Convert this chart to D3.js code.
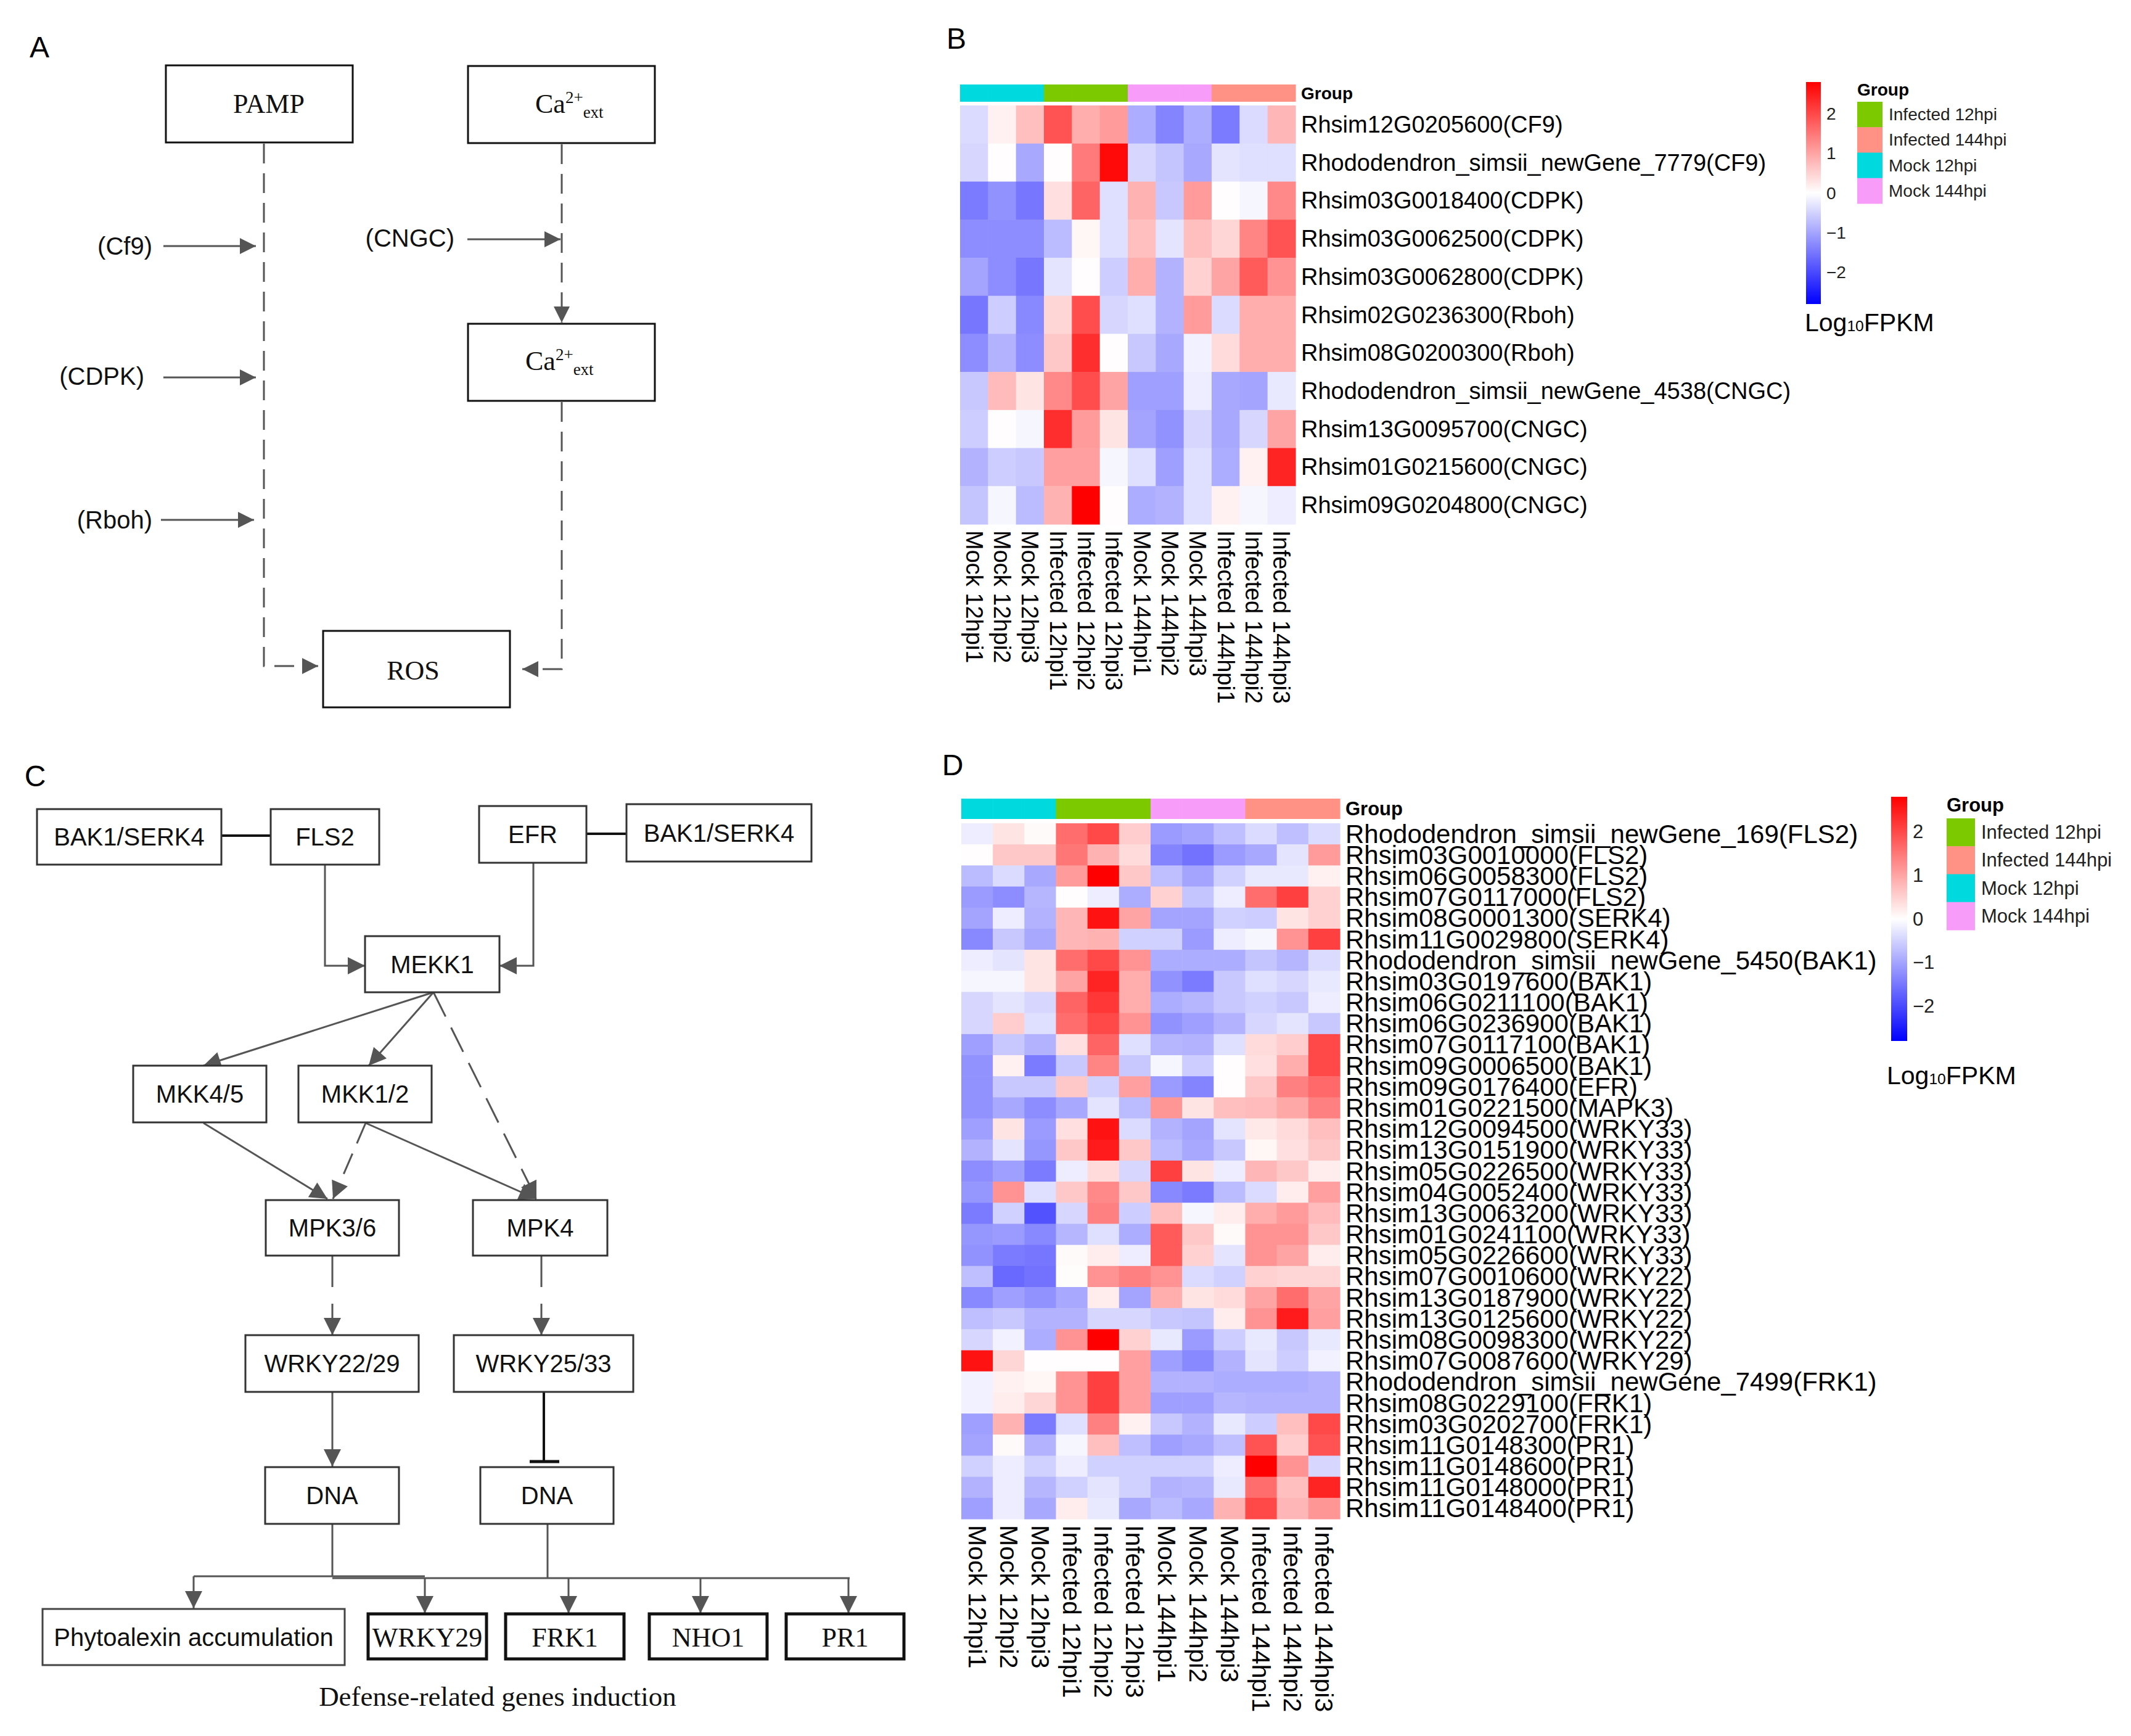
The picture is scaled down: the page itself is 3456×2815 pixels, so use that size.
<!DOCTYPE html>
<html><head><meta charset="utf-8">
<script src="https://cdn.jsdelivr.net/npm/d3@7"></script>
<style>body{margin:0;background:#fff}svg{display:block}</style>
</head><body>
<svg id="fig" width="3456" height="2815" xmlns="http://www.w3.org/2000/svg"></svg>
<script>
// ---------------- DATA ----------------
const samples = ["Mock 12hpi1","Mock 12hpi2","Mock 12hpi3","Infected 12hpi1","Infected 12hpi2","Infected 12hpi3",
  "Mock 144hpi1","Mock 144hpi2","Mock 144hpi3","Infected 144hpi1","Infected 144hpi2","Infected 144hpi3"];
const sampleGroups = ["Mock 12hpi","Mock 12hpi","Mock 12hpi","Infected 12hpi","Infected 12hpi","Infected 12hpi",
  "Mock 144hpi","Mock 144hpi","Mock 144hpi","Infected 144hpi","Infected 144hpi","Infected 144hpi"];
const groupLegend = ["Infected 12hpi","Infected 144hpi","Mock 12hpi","Mock 144hpi"];
const groupColors = ["#7DC900","#FF9284","#00DADF","#F79CF8"];
const legendTicks = [2,1,0,-1,-2];
const colorStops = ["#0000FF","#FFFFFF","#FF0000"];
const colorLimit = 2.8;

const genesB = ["Rhsim12G0205600(CF9)","Rhododendron_simsii_newGene_7779(CF9)","Rhsim03G0018400(CDPK)",
  "Rhsim03G0062500(CDPK)","Rhsim03G0062800(CDPK)","Rhsim02G0236300(Rboh)","Rhsim08G0200300(Rboh)",
  "Rhododendron_simsii_newGene_4538(CNGC)","Rhsim13G0095700(CNGC)","Rhsim01G0215600(CNGC)","Rhsim09G0204800(CNGC)"];
const valuesB = [
  [-0.4, 0.15, 0.7, 1.9, 0.9, 1.1, -0.9, -1.35, -0.9, -1.45, -0.4, 0.8],
  [-0.45, 0.02, -0.95, 0.02, 1.45, 2.7, -0.45, -0.65, -0.95, -0.3, -0.35, -0.35],
  [-1.45, -1.2, -1.5, 0.35, 1.7, -0.35, 0.85, -0.6, 1.1, 0.02, -0.1, 1.3],
  [-1.25, -1.25, -1.25, -0.75, 0.1, -0.35, 0.7, -0.3, 0.7, 0.45, 1.35, 1.9],
  [-1.0, -1.25, -1.5, -0.3, 0.02, -0.55, 0.9, -0.85, 0.5, 1.0, 1.8, 1.2],
  [-1.5, -0.55, -1.3, 0.45, 1.95, -0.45, -0.35, -0.85, 1.1, -0.4, 0.9, 0.9],
  [-1.25, -0.85, -1.25, 0.6, 2.3, 0.02, -0.6, -0.95, -0.15, 0.4, 0.9, 0.9],
  [-0.6, 0.75, 0.3, 1.3, 1.95, 1.0, -1.05, -1.05, -0.2, -0.95, -1.0, -0.25],
  [-0.55, 0.02, -0.1, 2.3, 1.1, 0.3, -1.0, -1.2, -0.45, -0.95, -0.45, 1.0],
  [-0.85, -0.55, -0.6, 1.05, 1.05, -0.1, -0.35, -1.05, -0.35, -0.9, 0.15, 2.4],
  [-0.65, -0.1, -0.75, 0.85, 2.85, 0.02, -0.9, -0.85, -0.35, 0.15, -0.1, -0.2]
];

const genesD = ["Rhododendron_simsii_newGene_169(FLS2)","Rhsim03G0010000(FLS2)","Rhsim06G0058300(FLS2)",
  "Rhsim07G0117000(FLS2)","Rhsim08G0001300(SERK4)","Rhsim11G0029800(SERK4)","Rhododendron_simsii_newGene_5450(BAK1)",
  "Rhsim03G0197600(BAK1)","Rhsim06G0211100(BAK1)","Rhsim06G0236900(BAK1)","Rhsim07G0117100(BAK1)",
  "Rhsim09G0006500(BAK1)","Rhsim09G0176400(EFR)","Rhsim01G0221500(MAPK3)","Rhsim12G0094500(WRKY33)",
  "Rhsim13G0151900(WRKY33)","Rhsim05G0226500(WRKY33)","Rhsim04G0052400(WRKY33)","Rhsim13G0063200(WRKY33)",
  "Rhsim01G0241100(WRKY33)","Rhsim05G0226600(WRKY33)","Rhsim07G0010600(WRKY22)","Rhsim13G0187900(WRKY22)",
  "Rhsim13G0125600(WRKY22)","Rhsim08G0098300(WRKY22)","Rhsim07G0087600(WRKY29)",
  "Rhododendron_simsii_newGene_7499(FRK1)","Rhsim08G0229100(FRK1)","Rhsim03G0202700(FRK1)",
  "Rhsim11G0148300(PR1)","Rhsim11G0148600(PR1)","Rhsim11G0148000(PR1)","Rhsim11G0148400(PR1)"];
const valuesD = [
  [-0.2, 0.3, 0.05, 1.6, 2.0, 0.55, -1.1, -1.0, -0.7, -0.4, -0.7, -0.4],
  [0.02, 0.6, 0.6, 1.5, 0.85, 0.4, -1.35, -1.55, -1.1, -0.95, -0.3, 1.1],
  [-0.75, -0.4, -0.95, 1.1, 2.85, 0.6, -0.7, -1.0, -0.5, -0.25, -0.25, 0.15],
  [-1.1, -1.25, -0.8, 0.02, -0.2, -0.9, 0.5, -0.65, -0.2, 1.6, 2.1, 0.5],
  [-1.0, -0.2, -0.85, 0.8, 2.6, 1.0, -1.0, -1.0, -0.5, -0.55, 0.3, 0.5],
  [-1.3, -0.6, -0.95, 0.8, 0.85, -0.5, -0.5, -1.1, -0.2, -0.1, 1.2, 2.1],
  [-0.2, -0.3, 0.3, 1.6, 2.0, 1.2, -0.9, -0.9, -0.9, -0.65, -0.8, -0.4],
  [-0.1, -0.1, 0.3, 1.0, 2.4, 0.9, -1.2, -1.45, -0.6, -0.35, -0.45, -0.25],
  [-0.45, -0.3, -0.45, 1.7, 2.2, 0.9, -0.9, -0.8, -0.6, -0.5, -0.6, -0.2],
  [-0.45, 0.55, -0.35, 1.6, 2.0, 1.2, -1.2, -1.05, -0.85, -0.45, -0.3, -0.6],
  [-1.05, -0.6, -0.85, 0.35, 1.7, -0.35, -0.8, -0.85, -0.35, 0.4, 0.55, 2.0],
  [-1.2, 0.15, -1.45, -0.6, 1.35, -0.6, -0.1, -0.55, 0.02, 0.35, 0.9, 2.0],
  [-1.2, -0.6, -0.6, 0.6, -0.5, 1.05, -1.1, -1.35, 0.02, 0.6, 1.4, 1.65],
  [-1.2, -0.95, -1.25, -0.95, -0.3, -0.75, 1.15, 0.3, 0.7, 0.75, 0.95, 1.4],
  [-1.05, 0.3, -1.1, 0.35, 2.6, -0.4, -0.85, -1.0, -0.3, 0.25, 0.4, 0.7],
  [-0.85, -0.3, -1.15, 0.6, 2.5, 0.6, -0.75, -0.95, -0.6, 0.1, 0.35, 0.6],
  [-1.25, -1.05, -1.45, -0.2, 0.4, -0.45, 2.1, 0.3, -0.2, 0.8, 0.6, 0.2],
  [-1.15, 1.2, -0.35, 0.6, 1.3, 0.6, -1.3, -1.45, -0.75, -0.4, 0.2, 1.05],
  [-1.45, -0.5, -1.9, -0.45, 1.4, -0.55, 0.7, -0.1, 0.2, 0.9, 1.1, 0.75],
  [-1.15, -1.1, -1.3, -0.8, -0.35, -0.9, 1.8, 0.6, 0.05, 1.2, 1.2, 0.6],
  [-1.2, -1.45, -1.5, 0.05, 0.2, -0.2, 1.8, 0.5, -0.3, 1.2, 1.0, 0.2],
  [-0.7, -1.65, -1.55, 0.03, 1.2, 1.4, 1.2, -0.4, -0.5, 0.5, 0.45, 0.45],
  [-1.3, -1.05, -1.2, -0.95, 0.2, -1.0, 0.9, 0.3, 0.4, 1.0, 1.6, 1.0],
  [-0.7, -0.6, -0.85, -0.85, -0.45, -0.45, -0.6, -0.65, 0.2, 1.2, 2.5, 1.05],
  [-0.45, -0.15, -0.9, 1.2, 2.85, 0.5, -0.25, -1.1, -0.55, -0.25, -0.6, -0.25],
  [2.6, 0.45, 0.02, 0.02, 0.02, 1.05, -1.05, -1.3, -0.85, -0.3, -0.55, -0.15],
  [-0.15, 0.15, 0.1, 1.2, 2.1, 1.05, -0.85, -0.85, -0.9, -0.9, -0.9, -0.85],
  [-0.15, 0.2, 0.45, 1.2, 2.1, 1.05, -1.05, -1.05, -0.8, -0.85, -0.85, -0.85],
  [-1.05, 0.85, -1.45, -0.35, 1.4, 0.15, -0.6, -0.85, -0.25, -0.55, 0.7, 2.0],
  [-1.0, 0.05, -0.85, -0.1, 0.7, -0.7, -1.05, -0.95, -0.7, 1.9, 0.55, 1.9],
  [-0.5, -0.2, -0.5, -0.2, -0.5, -0.5, -0.5, -0.5, -0.2, 2.85, 1.2, -0.45],
  [-0.85, -0.2, -0.8, -0.5, -0.3, -0.5, -0.85, -0.8, -0.25, 1.6, 0.7, 2.4],
  [-1.05, -0.2, -0.95, 0.2, -0.25, -0.95, -0.75, -0.95, 0.85, 2.0, 0.8, 1.15]
];

// ---------------- SETUP ----------------
const SANS = "'Liberation Sans', Arial, sans-serif";
const SERIF = "'Liberation Serif', 'Times New Roman', serif";
const svg = d3.select("#fig");
svg.append("rect").attr("width",3456).attr("height",2815).attr("fill","#fff");
const defs = svg.append("defs");
const LINE = "#555";

function marker(id, len, wid, color) {
  defs.append("marker").attr("id", id).attr("viewBox","0 0 10 10").attr("refX",10).attr("refY",5)
    .attr("markerUnits","userSpaceOnUse").attr("markerWidth",len).attr("markerHeight",wid)
    .attr("orient","auto").append("path").attr("d","M0,0L10,5L0,10Z").attr("fill",color);
}
marker("arrA", 32, 26, LINE);
marker("arrC", 32, 28, LINE);

const colorScale = d3.scaleLinear().domain([-colorLimit,0,colorLimit]).range(colorStops).clamp(true);
const groupColor = d3.scaleOrdinal().domain(groupLegend).range(groupColors);

function panelLabel(t, x, y) {
  svg.append("text").attr("x",x).attr("y",y).attr("font-family",SANS).attr("font-size",48)
    .attr("text-anchor","middle").attr("dominant-baseline","central").text(t);
}

// ---------------- HEATMAP ----------------
function heatmap(cfg) {
  const g = svg.append("g");
  const x = d3.scaleBand().domain(samples).range([cfg.x0, cfg.x1]);
  const y = d3.scaleBand().domain(cfg.genes).range([cfg.y0, cfg.y1]);
  // group annotation bar
  g.selectAll("rect.grp").data(samples).join("rect").attr("class","grp")
    .attr("x", d => x(d)).attr("y", cfg.barY0).attr("width", x.bandwidth()+0.6).attr("height", cfg.barY1-cfg.barY0)
    .attr("fill", (d,i) => groupColor(sampleGroups[i]));
  g.append("text").attr("x", cfg.labelX).attr("y",(cfg.barY0+cfg.barY1)/2).attr("dominant-baseline","central")
    .attr("font-family",SANS).attr("font-weight","bold").attr("font-size",cfg.groupFont).text("Group");
  // cells
  const cells = [];
  cfg.values.forEach((row, r) => row.forEach((v, c) => cells.push({gene: cfg.genes[r], sample: samples[c], v})));
  g.selectAll("rect.cell").data(cells).join("rect").attr("class","cell")
    .attr("x", d => x(d.sample)).attr("y", d => y(d.gene))
    .attr("width", x.bandwidth()+0.6).attr("height", y.bandwidth()+0.6)
    .attr("fill", d => colorScale(d.v));
  // row labels
  g.selectAll("text.row").data(cfg.genes).join("text").attr("class","row")
    .attr("x", cfg.labelX).attr("y", d => y(d) + y.bandwidth()/2).attr("dominant-baseline","central")
    .attr("font-family",SANS).attr("font-size",cfg.rowFont).text(d => d);
  // column labels
  g.selectAll("text.col").data(samples).join("text").attr("class","col")
    .attr("transform", d => `translate(${x(d)+x.bandwidth()/2},${cfg.colY}) rotate(90)`)
    .attr("dominant-baseline","central").attr("font-family",SANS).attr("font-size",cfg.colFont).text(d => d);
  // legend: colour bar
  const gid = "grad" + cfg.id;
  const grad = defs.append("linearGradient").attr("id",gid).attr("x1",0).attr("x2",0).attr("y1",1).attr("y2",0);
  d3.range(0, 1.0001, 0.05).forEach(t => grad.append("stop").attr("offset", t)
    .attr("stop-color", colorScale(-colorLimit + 2*colorLimit*t)));
  const ly = d3.scaleLinear().domain([colorLimit, -colorLimit]).range([cfg.cbY0, cfg.cbY1]);
  g.append("rect").attr("x",cfg.cbX).attr("y",cfg.cbY0).attr("width",cfg.cbW).attr("height",cfg.cbY1-cfg.cbY0)
    .attr("fill",`url(#${gid})`);
  g.selectAll("text.tick").data(legendTicks).join("text").attr("class","tick")
    .attr("x", cfg.cbX + cfg.cbW + 9).attr("y", d => ly(d)).attr("dominant-baseline","central")
    .attr("font-family",SANS).attr("font-size",cfg.legFont).attr("fill","#222")
    .text(d => d < 0 ? "\u2212" + Math.abs(d) : String(d));
  const lt = g.append("text").attr("x",cfg.logX).attr("y",cfg.logY).attr("font-family",SANS).attr("font-size",cfg.logFont);
  lt.append("tspan").text("Log");
  lt.append("tspan").attr("font-size",cfg.logFont*0.6).text("10");
  lt.append("tspan").text("FPKM");
  // legend: groups
  g.append("text").attr("x",cfg.swX).attr("y",cfg.grpY).attr("dominant-baseline","central")
    .attr("font-family",SANS).attr("font-weight","bold").attr("font-size",cfg.legFont).text("Group");
  const sy = d3.scaleBand().domain(groupLegend).range([cfg.swY0, cfg.swY0 + cfg.swH*groupLegend.length]);
  g.selectAll("rect.sw").data(groupLegend).join("rect").attr("class","sw")
    .attr("x",cfg.swX).attr("y", d => sy(d)).attr("width",cfg.swW).attr("height",sy.bandwidth()+0.5)
    .attr("fill", d => groupColor(d));
  g.selectAll("text.sw").data(groupLegend).join("text").attr("class","sw")
    .attr("x",cfg.swX+cfg.swW+10).attr("y", d => sy(d)+sy.bandwidth()/2).attr("dominant-baseline","central")
    .attr("font-family",SANS).attr("font-size",cfg.legFont).attr("fill","#222").text(d => d);
}

heatmap({id:"B", genes:genesB, values:valuesB, x0:1557, x1:2101, y0:171, y1:850, barY0:137, barY1:165,
  labelX:2110, rowFont:38, colFont:38, colY:860, groupFont:28,
  cbX:2929, cbW:24, cbY0:133, cbY1:493, legFont:28, logFont:41, logX:2927, logY:537,
  swX:3012, swW:41, swY0:165, swH:41.25, grpY:145});
heatmap({id:"D", genes:genesD, values:valuesD, x0:1559, x1:2173, y0:1335, y1:2463, barY0:1295, barY1:1328,
  labelX:2182, rowFont:42, colFont:41, colY:2473, groupFont:31,
  cbX:3067, cbW:26, cbY0:1292, cbY1:1688, legFont:31, logFont:41, logX:3060, logY:1758,
  swX:3157, swW:46, swY0:1327, swH:45.25, grpY:1305});

panelLabel("B", 1551, 62);
panelLabel("D", 1545, 1240);

// ---------------- PANEL A ----------------
panelLabel("A", 64, 76);
const gA = svg.append("g");
function box(g, x0, y0, x1, y1, sw, col) {
  g.append("rect").attr("x",x0).attr("y",y0).attr("width",x1-x0).attr("height",y1-y0)
    .attr("fill","#fff").attr("stroke",col||"#111").attr("stroke-width",sw||3);
}
function path(g, d, opts) {
  const p = g.append("path").attr("d",d).attr("fill","none").attr("stroke",opts.color||LINE)
    .attr("stroke-width",opts.w||3);
  if (opts.dash) p.attr("stroke-dasharray",opts.dash);
  if (opts.marker) p.attr("marker-end",`url(#${opts.marker})`);
  return p;
}
function label(g, t, x, y, font, size, anchor) {
  return g.append("text").attr("x",x).attr("y",y).attr("font-family",font).attr("font-size",size)
    .attr("text-anchor",anchor||"middle").attr("dominant-baseline","central").attr("fill","#111").text(t);
}
function caText(g, x, y) {
  const t = g.append("text").attr("x",x).attr("y",y).attr("font-family",SERIF).attr("font-size",44).attr("fill","#111");
  t.append("tspan").text("Ca");
  t.append("tspan").attr("font-size",27).attr("dy",-16).text("2+");
  t.append("tspan").attr("font-size",27).attr("dy",24).text("ext");
}
box(gA, 269,106,572,231);
box(gA, 759,107,1062,232);
box(gA, 759,525,1062,650);
box(gA, 524,1023,827,1147);
label(gA, "PAMP", 436, 168, SERIF, 44);
caText(gA, 868, 183);
caText(gA, 852, 600);
label(gA, "ROS", 670, 1087, SERIF, 44);
path(gA, "M428,233V1080H516", {dash:"32,16", marker:"arrA"});
path(gA, "M911,234V523", {dash:"32,16", marker:"arrA"});
path(gA, "M911,652V1085H847", {dash:"32,16", marker:"arrA"});
path(gA, "M265,399H415", {marker:"arrA"});
path(gA, "M265,612H415", {marker:"arrA"});
path(gA, "M261,843H412", {marker:"arrA"});
path(gA, "M758,388H909", {marker:"arrA"});
label(gA, "(Cf9)", 247, 399, SANS, 40, "end");
label(gA, "(CDPK)", 234, 610, SANS, 40, "end");
label(gA, "(Rboh)", 247, 843, SANS, 40, "end");
label(gA, "(CNGC)", 737, 386, SANS, 40, "end");

// ---------------- PANEL C ----------------
panelLabel("C", 57, 1258);
const gC = svg.append("g");
const BC = "#333";
const nodesC = [
  ["BAK1/SERK4", 60,1312,359,1402], ["FLS2", 439,1312,615,1402], ["EFR", 777,1307,951,1399],
  ["BAK1/SERK4", 1016,1304,1316,1397], ["MEKK1", 592,1518,810,1609], ["MKK4/5", 216,1728,432,1820],
  ["MKK1/2", 484,1728,700,1820], ["MPK3/6", 431,1946,647,2036], ["MPK4", 767,1946,985,2036],
  ["WRKY22/29", 398,2165,679,2257], ["WRKY25/33", 736,2165,1027,2257], ["DNA", 430,2379,647,2471],
  ["DNA", 779,2379,995,2471]
];
// edges
path(gC, "M359,1355H439", {color:"#111", w:4});
path(gC, "M951,1352H1016", {color:"#111", w:4});
path(gC, "M527,1402V1566H592", {marker:"arrC"});
path(gC, "M865,1399V1566H810", {marker:"arrC"});
path(gC, "M703,1609L330,1728", {marker:"arrC"});
path(gC, "M703,1609L598,1728", {marker:"arrC"});
path(gC, "M703,1609L870,1944", {marker:"arrC", dash:"44,20"});
path(gC, "M330,1821L531,1944", {marker:"arrC"});
path(gC, "M593,1821L540,1944", {marker:"arrC", dash:"36,18"});
path(gC, "M593,1821L870,1944", {marker:"arrC"});
path(gC, "M539,2036V2165", {marker:"arrC", dash:"51,27"});
path(gC, "M878,2036V2165", {marker:"arrC", dash:"51,27"});
path(gC, "M539,2257V2378", {marker:"arrC"});
path(gC, "M882,2257V2370", {color:"#111", w:4});
path(gC, "M859,2370H907", {color:"#111", w:5});
path(gC, "M539,2471V2556", {});
path(gC, "M888,2471V2559", {});
path(gC, "M314,2556H689", {});
path(gC, "M539,2559H1378", {});
path(gC, "M314,2556V2608", {marker:"arrC"});
[689, 922, 1136, 1376].forEach(x => path(gC, `M${x},2558V2616`, {marker:"arrC"}));
nodesC.forEach(n => { box(gC, n[1], n[2], n[3], n[4], 3, BC); label(gC, n[0], (n[1]+n[3])/2, (n[2]+n[4])/2, SANS, 40); });
// outputs
box(gC, 69,2609,559,2700, 3, "#444");
label(gC, "Phytoalexin accumulation", 314, 2655, SANS, 40);
const outs = [["WRKY29",597,789],["FRK1",820,1012],["NHO1",1053,1244],["PR1",1275,1466]];
outs.forEach(o => { box(gC, o[1], 2617, o[2], 2690, 5, "#111"); label(gC, o[0], (o[1]+o[2])/2, 2655, SERIF, 44); });
label(gC, "Defense-related genes induction", 807, 2751, SERIF, 45);
</script>
</body></html>
